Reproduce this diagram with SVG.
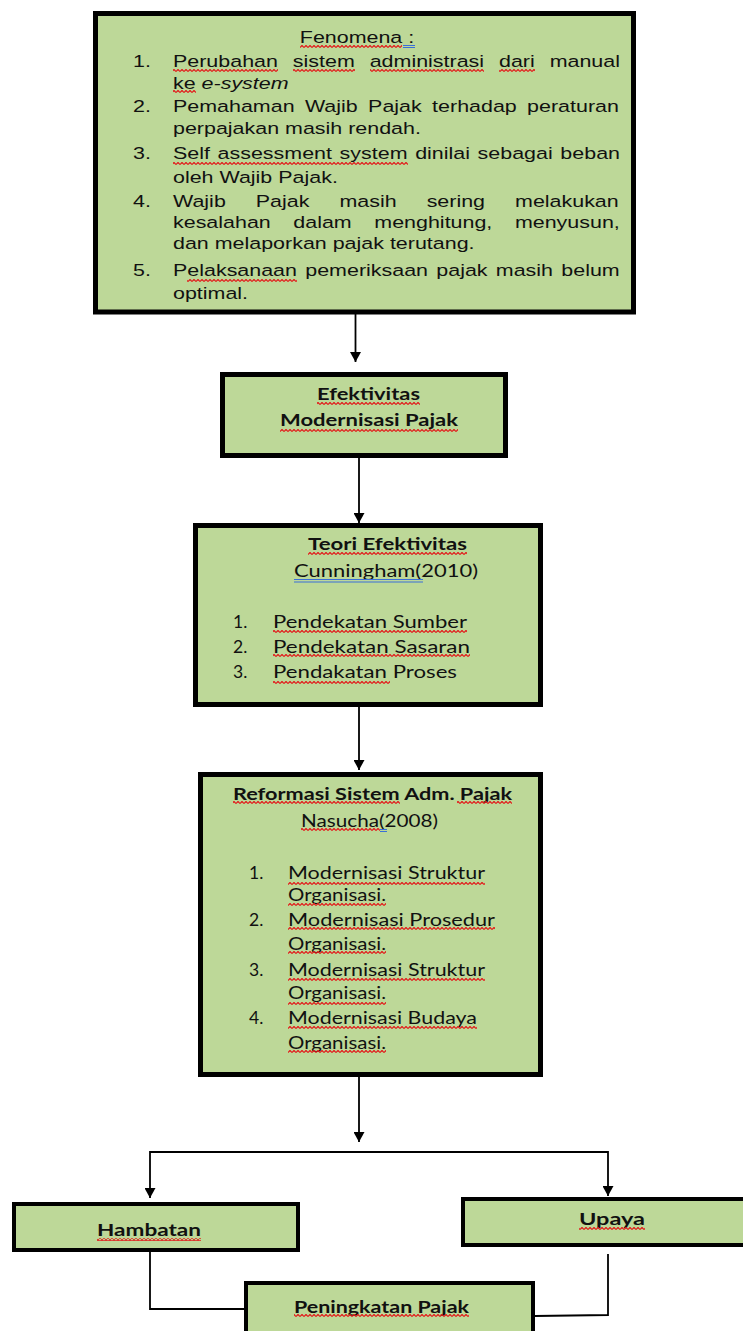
<svg xmlns="http://www.w3.org/2000/svg" width="743" height="1331" viewBox="0 0 743 1331">
<style>
.box{fill:#BDD898;stroke:#000;stroke-width:5}
.box4{fill:#BDD898;stroke:#000;stroke-width:4}
.t1{font-family:"Liberation Sans",Arial,sans-serif;font-size:16.5px;fill:#111}
.c{font-family:Lato,"Open Sans",sans-serif;font-size:17.5px;fill:#111}
.b{font-weight:bold}
.wv{fill:url(#wave)}
.conn{stroke:#000;stroke-width:1.8;fill:none}
.arr{marker-end:url(#ah)}
.blue{stroke:#3a6fd8;stroke-width:1;fill:none}
</style>
<defs>
<pattern id="wave" patternUnits="userSpaceOnUse" width="4" height="3">
<path d="M0 2.6 L2 0.4 L4 2.6" fill="none" stroke="#e21b1b" stroke-width="1.2"/>
</pattern>
<marker id="ah" viewBox="0 0 10 11" refX="10" refY="5.5" markerWidth="10" markerHeight="11" markerUnits="userSpaceOnUse" orient="auto">
<path d="M0 0 L10 5.5 L0 11 Z" fill="#000"/>
</marker>
</defs>

<g id="connectors">
<path class="conn arr" d="M355.5 314 V362"/>
<path class="conn arr" d="M359 458 V523"/>
<path class="conn arr" d="M359 707 V770"/>
<path class="conn arr" d="M359 1077 V1142"/>
<path class="conn arr" d="M359 1152 H150 V1198"/>
<path class="conn arr" d="M359 1152 H608 V1196"/>
<path class="conn" d="M150 1252 V1309 H244"/>
<path class="conn" d="M608 1254 V1315 L535 1316"/>
</g>

<g id="fenomena">
<rect class="box" x="95.5" y="13.5" width="538" height="298.5"/>
<text class="t1" text-anchor="middle" transform="translate(357,43) scale(1.3,1)">Fenomena :</text>
<rect class="wv" x="300" y="45" width="102" height="3"/>
<path class="blue" d="M403 45.5 H415 M403 47.5 H415"/>
<text class="t1" transform="translate(133,67) scale(1.3,1)">1.</text>
<text class="t1" transform="translate(173,67) scale(1.3,1)" word-spacing="6.9">Perubahan sistem administrasi dari manual</text>
<rect class="wv" x="173" y="69" width="105" height="3"/>
<rect class="wv" x="293" y="69" width="62" height="3"/>
<rect class="wv" x="370" y="69" width="114" height="3"/>
<rect class="wv" x="499" y="69" width="36" height="3"/>
<text class="t1" transform="translate(173,89) scale(1.3,1)">ke <tspan font-style="italic">e-system</tspan></text>
<rect class="wv" x="173" y="90" width="23" height="3"/>
<text class="t1" transform="translate(133,112) scale(1.3,1)">2.</text>
<text class="t1" transform="translate(173,112) scale(1.3,1)" word-spacing="3.4">Pemahaman Wajib Pajak terhadap peraturan</text>
<text class="t1" transform="translate(173,134) scale(1.3,1)">perpajakan masih rendah.</text>
<text class="t1" transform="translate(133,159) scale(1.3,1)">3.</text>
<text class="t1" transform="translate(173,159) scale(1.3,1)" word-spacing="1.3">Self assessment system dinilai sebagai beban</text>
<rect class="wv" x="173" y="162" width="235" height="3"/>
<text class="t1" transform="translate(173,183) scale(1.3,1)">oleh Wajib Pajak.</text>
<text class="t1" transform="translate(133,207) scale(1.3,1)">4.</text>
<text class="t1" transform="translate(173,207) scale(1.3,1)" word-spacing="18.5">Wajib Pajak masih sering melakukan</text>
<text class="t1" transform="translate(173,228) scale(1.3,1)" word-spacing="12.8">kesalahan dalam menghitung, menyusun,</text>
<text class="t1" transform="translate(173,249) scale(1.3,1)">dan melaporkan pajak terutang.</text>
<text class="t1" transform="translate(133,276) scale(1.3,1)">5.</text>
<text class="t1" transform="translate(173,276) scale(1.3,1)" word-spacing="1.8">Pelaksanaan pemeriksaan pajak masih belum</text>
<rect class="wv" x="187" y="279" width="110" height="3"/>
<text class="t1" transform="translate(173,299) scale(1.3,1)">optimal.</text>
</g>

<g id="efektivitas">
<rect class="box" x="222.5" y="374.5" width="283" height="81"/>
<text class="c b" x="317" y="400" textLength="103" lengthAdjust="spacingAndGlyphs">Efektivitas</text>
<rect class="wv" x="317" y="402" width="103" height="3"/>
<text class="c b" x="280" y="426" textLength="178" lengthAdjust="spacingAndGlyphs">Modernisasi Pajak</text>
<rect class="wv" x="280" y="429" width="178" height="3"/>
</g>

<g id="teori">
<rect class="box" x="195.5" y="525.5" width="345" height="179"/>
<text class="c b" x="308" y="550" textLength="159" lengthAdjust="spacingAndGlyphs">Teori Efektivitas</text>
<rect class="wv" x="308" y="552" width="159" height="3"/>
<text class="c" x="294" y="577" textLength="184" lengthAdjust="spacingAndGlyphs">Cunningham(2010)</text>
<path class="blue" d="M294 579.5 H423 M294 582 H423"/>
<text class="c" x="233" y="628">1.</text>
<text class="c" x="273" y="628" textLength="194" lengthAdjust="spacingAndGlyphs">Pendekatan Sumber</text>
<rect class="wv" x="273" y="630" width="194" height="3"/>
<text class="c" x="233" y="653">2.</text>
<text class="c" x="273" y="653" textLength="197" lengthAdjust="spacingAndGlyphs">Pendekatan Sasaran</text>
<rect class="wv" x="273" y="654" width="197" height="3"/>
<text class="c" x="233" y="678">3.</text>
<text class="c" x="273" y="678" textLength="184" lengthAdjust="spacingAndGlyphs">Pendakatan Proses</text>
<rect class="wv" x="273" y="681" width="117" height="3"/>
</g>

<g id="reformasi">
<rect class="box" x="200.5" y="774.5" width="340" height="300"/>
<text class="c b" x="233" y="800" textLength="279" lengthAdjust="spacingAndGlyphs">Reformasi Sistem Adm. Pajak</text>
<rect class="wv" x="233" y="801" width="167" height="3"/>
<rect class="wv" x="457" y="801" width="55" height="3"/>
<text class="c" x="301" y="827" textLength="137" lengthAdjust="spacingAndGlyphs">Nasucha(2008)</text>
<rect class="wv" x="301" y="828" width="79" height="3"/>
<path class="blue" d="M380 829.5 H387 M380 831.5 H387"/>
<text class="c" x="249" y="879">1.</text>
<text class="c" x="288" y="879" textLength="197" lengthAdjust="spacingAndGlyphs">Modernisasi Struktur</text>
<rect class="wv" x="288" y="882" width="197" height="3"/>
<text class="c" x="288" y="901" textLength="98" lengthAdjust="spacingAndGlyphs">Organisasi.</text>
<rect class="wv" x="288" y="903" width="98" height="3"/>
<text class="c" x="249" y="926">2.</text>
<text class="c" x="288" y="926" textLength="207" lengthAdjust="spacingAndGlyphs">Modernisasi Prosedur</text>
<rect class="wv" x="288" y="927" width="207" height="3"/>
<text class="c" x="288" y="950" textLength="98" lengthAdjust="spacingAndGlyphs">Organisasi.</text>
<rect class="wv" x="288" y="951" width="98" height="3"/>
<text class="c" x="249" y="976">3.</text>
<text class="c" x="288" y="976" textLength="197" lengthAdjust="spacingAndGlyphs">Modernisasi Struktur</text>
<rect class="wv" x="288" y="978" width="197" height="3"/>
<text class="c" x="288" y="999" textLength="98" lengthAdjust="spacingAndGlyphs">Organisasi.</text>
<rect class="wv" x="288" y="1002" width="98" height="3"/>
<text class="c" x="249" y="1024">4.</text>
<text class="c" x="288" y="1024" textLength="189" lengthAdjust="spacingAndGlyphs">Modernisasi Budaya</text>
<rect class="wv" x="288" y="1026" width="189" height="3"/>
<text class="c" x="288" y="1049" textLength="98" lengthAdjust="spacingAndGlyphs">Organisasi.</text>
<rect class="wv" x="288" y="1050" width="98" height="3"/>
</g>

<g id="hambatan">
<rect class="box4" x="14" y="1204" width="284" height="46"/>
<text class="c b" x="97" y="1236" textLength="104" lengthAdjust="spacingAndGlyphs">Hambatan</text>
<rect class="wv" x="97" y="1238" width="104" height="3"/>
</g>

<g id="upaya">
<rect class="box4" x="463" y="1199" width="290" height="46"/>
<text class="c b" x="579" y="1225" textLength="66" lengthAdjust="spacingAndGlyphs">Upaya</text>
<rect class="wv" x="579" y="1227" width="66" height="3"/>
</g>

<g id="peningkatan">
<rect class="box4" x="246" y="1283" width="287" height="60"/>
<text class="c b" x="294" y="1313" textLength="175" lengthAdjust="spacingAndGlyphs">Peningkatan Pajak</text>
<rect class="wv" x="294" y="1314" width="175" height="3"/>
</g>
</svg>
